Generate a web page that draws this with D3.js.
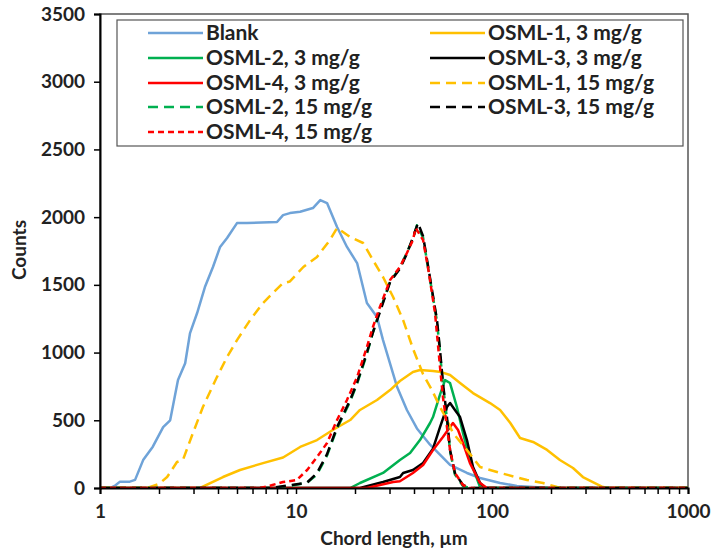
<!DOCTYPE html>
<html><head><meta charset="utf-8">
<script src="https://cdn.jsdelivr.net/npm/d3@7"></script>
<style>
body{margin:0;background:#fff;}
text{font-family:Lato,"Open Sans",sans-serif;font-weight:bold;fill:#222;}
</style></head>
<body><svg id="c" width="712" height="550"></svg>
<script>
// ---- data (x in µm, y in counts) ----
const xTickValues = [1, 10, 100, 1000];
const yTickValues = [0, 500, 1000, 1500, 2000, 2500, 3000, 3500];
const seriesNames = ["Blank","OSML-1, 3 mg/g","OSML-2, 3 mg/g","OSML-3, 3 mg/g","OSML-4, 3 mg/g",
  "OSML-1, 15 mg/g","OSML-2, 15 mg/g","OSML-3, 15 mg/g","OSML-4, 15 mg/g"];

const blank = [[1,0],[1.125,0],[1.2,20],[1.265,47],[1.42,47],[1.51,60],[1.66,206],[1.86,305],[2.10,450],[2.28,500],
 [2.50,797],[2.72,921],[2.88,1144],[3.13,1292],[3.43,1484],[3.77,1632],[4.10,1780],[4.45,1846],[5.00,1956],[5.62,1956],
 [8.00,1964],[8.59,2015],[9.31,2030],[10.5,2040],[12.2,2067],[13.3,2126],[14.4,2104],[16.2,1927],[18.2,1780],[20.5,1661],
 [23.0,1366],[25.9,1262],[27.8,1092],[32.8,745],[36.8,576],[41.4,440],[48.3,320],[61.1,170],[74.5,111],[86.9,74],
 [110,37],[134,15],[198,0],[1000,0]];
const osml1_3 = [[1,0],[3.24,0],[4.24,81],[5.18,133],[6.79,184],[8.59,225],[10.5,303],[12.8,354],[15.4,428],[18.9,502],
 [21.2,576],[25.9,650],[30.2,723],[33.9,790],[39.5,856],[42.9,871],[50,864],[55,856],[61.1,834],[68.7,775],[80,701],
 [97.7,627],[110,576],[124,480],[139,369],[162,340],[191,281],[222,207],[259,148],[291,81],[327,44],[368,7],[400,0],[1000,0]];
const osml2_3 = [[1,0],[18.9,0],[21.2,37],[27.8,111],[33.9,207],[38.2,258],[42.9,354],[48.3,480],[50,524],[54.3,690],
 [57.6,797],[61.1,775],[66.2,598],[71.1,406],[77.2,207],[86.9,7],[90,0],[1000,0]];
const osml3_3 = [[1,0],[21.2,0],[27.8,44],[33.9,81],[35.2,111],[39.5,133],[44.5,184],[50,290],[54.3,450],[58.9,598],
 [61.1,627],[64.7,576],[68.7,524],[74.5,354],[80,155],[86.9,37],[92.1,0],[1000,0]];
const osml4_3 = [[1,0],[23,0],[31.3,44],[33.9,50],[39.5,111],[44.5,170],[50,281],[56.2,376],[61.1,450],[63.2,480],
 [67.1,428],[71.1,332],[77.2,184],[86.9,37],[94.3,0],[1000,0]];
const osml1_15 = [[1,0],[1.74,0],[2.0,30],[2.20,81],[2.47,192],[2.65,207],[2.98,406],[3.35,598],[3.95,819],[4.45,967],
 [5.00,1092],[5.83,1240],[6.79,1366],[7.63,1440],[8.59,1513],[9.31,1525],[10.9,1632],[12.8,1706],[14.9,1831],[16.2,1920],
 [18.9,1853],[22.0,1809],[24.7,1683],[27.8,1558],[31.3,1410],[35.2,1240],[39.5,1030],[44.5,840],[49.4,723],[54.3,598],
 [58,524],[63.2,406],[74.5,281],[86.9,155],[110,111],[151,59],[182,37],[215,7],[240,0],[1000,0]];
const osml2_15 = [[1,0],[7.37,0],[9.31,15],[11.4,40],[12.8,100],[14.4,240],[16.2,440],[18.9,640],[20.5,770],[23.0,990],
 [24.7,1150],[26.8,1310],[30.2,1525],[33.9,1625],[36.8,1740],[39.5,1840],[41.4,1940],[44.5,1850],[48.3,1540],[52.4,1230],
 [54.3,1000],[56.2,760],[58.9,510],[61.1,270],[64.7,100],[71.1,15],[77.2,0],[1000,0]];
const osml3_15 = [[1,0],[7.37,0],[9.31,20],[11.4,40],[12.8,111],[14.4,250],[16.2,450],[18.9,650],[20.5,780],[23.0,1000],
 [24.7,1150],[26.8,1300],[30.2,1520],[33.9,1620],[36.8,1730],[39.5,1850],[41.9,1956],[44.5,1860],[48.3,1550],[52.4,1240],
 [54.3,1019],[56.2,775],[58.9,524],[61.1,281],[64.7,111],[71.1,22],[77.2,0],[1000,0]];
const osml4_15 = [[1,0],[6.55,0],[7.5,20],[8.59,44],[10.1,59],[11.4,133],[12.8,229],[14.4,332],[16.2,502],[18.2,650],
 [20.5,819],[23.0,1041],[24.7,1189],[26.8,1337],[30.2,1535],[33.9,1632],[36.8,1735],[39.5,1831],[40.8,1920],[44.5,1831],
 [47.5,1600],[51.2,1292],[54.3,893],[56.2,672],[58.9,450],[61.1,281],[64.7,111],[71.1,22],[77.2,0],[1000,0]];

const seriesData = [blank, osml1_3, osml2_3, osml3_3, osml4_3, osml1_15, osml2_15, osml3_15, osml4_15];
// ---- styles ----
const seriesColors = ["#6fa3d8","#ffc000","#00b050","#000000","#ff0000","#ffc000","#00b050","#000000","#ff0000"];
const seriesDash = [null,null,null,null,null,"10,6","10,6","10,6","6,4"];

const svg = d3.select("#c");
const L = 100, R = 688, T = 14, B = 488;
const x = d3.scaleLog().domain([1, 1000]).range([L, R]);
const y = d3.scaleLinear().domain([0, 3500]).range([B, T]);

svg.append("defs").append("clipPath").attr("id","clip")
  .append("rect").attr("x",L).attr("y",T-2).attr("width",R-L).attr("height",B-T+2);

// plot border
svg.append("rect").attr("x",L).attr("y",T).attr("width",R-L).attr("height",B-T)
  .attr("fill","none").attr("stroke","#555").attr("stroke-width",1.5);

// lines
const line = d3.line().x(d => x(d[0])).y(d => y(d[1]));
const g = svg.append("g").attr("clip-path","url(#clip)");
seriesData.forEach((s, i) => {
  g.append("path").datum(s).attr("d", line).attr("fill","none")
    .attr("stroke", seriesColors[i]).attr("stroke-width", 2.5)
    .attr("stroke-linejoin","round")
    .attr("stroke-dasharray", seriesDash[i]);
});

// axes
const xMinor = [];
[1,10,100].forEach(d => { for (let k = 1; k < 10; k++) xMinor.push(d*k); });
xMinor.push(1000);
const xAxis = d3.axisBottom(x).tickValues(xMinor).tickSize(6)
  .tickFormat(d => xTickValues.includes(d) ? String(d) : "");
const gx = svg.append("g").attr("transform",`translate(0,${B})`).call(xAxis);
gx.select(".domain").attr("stroke","#000").attr("stroke-width",2);
gx.selectAll(".tick line").attr("stroke","#000").attr("stroke-width",1.5);
gx.selectAll(".tick text").attr("font-size",19).attr("dy","1.1em").style("font-family","Lato").style("font-weight","bold").attr("fill","#222");

const yAxis = d3.axisLeft(y).tickValues(yTickValues).tickSize(6).tickPadding(9).tickFormat(d3.format("d"));
const gy = svg.append("g").attr("transform",`translate(${L},0)`).call(yAxis);
gy.select(".domain").attr("stroke","#000").attr("stroke-width",2);
gy.selectAll(".tick line").attr("stroke","#000").attr("stroke-width",1.5);
gy.selectAll(".tick text").attr("font-size",19).style("font-family","Lato").style("font-weight","bold").attr("fill","#222");

// axis titles
svg.append("text").attr("x",(L+R)/2).attr("y",545).attr("text-anchor","middle")
  .attr("font-size",19).text("Chord length, µm");
svg.append("text").attr("transform","translate(26,250) rotate(-90)").attr("text-anchor","middle")
  .attr("font-size",19).text("Counts");

// legend
svg.append("rect").attr("x",117).attr("y",20).attr("width",683-117).attr("height",146-20)
  .attr("fill","#fff").attr("stroke","#555").attr("stroke-width",1.2);
const colX = [148, 430], rowY = [33, 58, 83, 107, 132];
seriesNames.forEach((name, i) => {
  const cx = colX[i % 2], cy = rowY[Math.floor(i / 2)];
  svg.append("line").attr("x1",cx).attr("x2",cx+55).attr("y1",cy).attr("y2",cy)
    .attr("stroke",seriesColors[i]).attr("stroke-width",2.5).attr("stroke-dasharray",seriesDash[i]);
  svg.append("text").attr("x",cx+58).attr("y",cy).attr("dy","0.35em").attr("font-size",21).text(name);
});
</script></body></html>
